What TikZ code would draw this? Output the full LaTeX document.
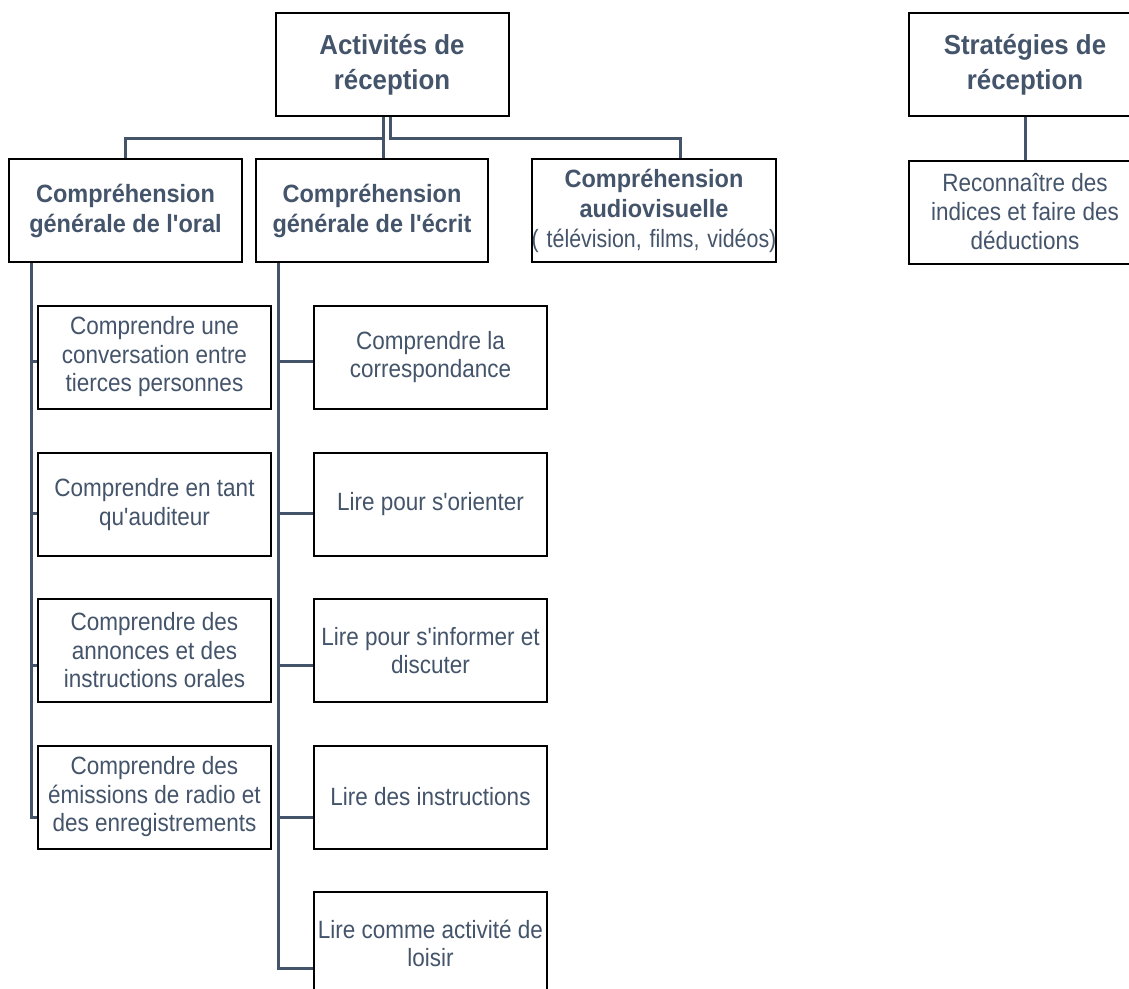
\documentclass[tikz,border=0pt]{standalone}
\usepackage{fontspec}
\usepackage{graphicx}
\setmainfont{Liberation Sans}[FakeStretch=0.9]
\newfontfamily\regfont{Liberation Sans}[FakeStretch=0.9]
\newfontfamily\headfont{Liberation Sans}[FakeStretch=0.94]
\newcommand\apos{\symbol{39}}
\definecolor{txt}{HTML}{44546A}
\definecolor{conncol}{HTML}{44546A}
\begin{document}
\begin{tikzpicture}[x=1pt,y=-1pt,
  box/.style={draw=black,line width=2pt,rectangle,inner sep=0pt,
    minimum width=#1,minimum height=103pt,align=center,text=txt,
    font=\regfont\fontsize{25}{28.5}\selectfont},
  box/.default=233pt,
  head/.style={box=#1,font=\headfont\bfseries\fontsize{25}{30}\selectfont},
  head/.default=233pt,
  tophead/.style={box=#1,font=\headfont\bfseries\fontsize{27.5}{35}\selectfont},
  conn/.style={draw=conncol,line width=3pt}]
\useasboundingbox (0,0) rectangle (1129,988);
\fill[white] (0,0) rectangle (1129,988);
% top level
\node[tophead=233pt] (act) at (392,64.5) {Activit\'es de\\r\'eception};
\node[tophead=232pt] (strat) at (1025,64.5) {Strat\'egies de\\r\'eception};
\node[box=232pt,font=\regfont\fontsize{25}{29}\selectfont] (reco) at (1025,212) {Reconna\^itre des\\indices et faire des\\d\'eductions};
% headings
\node[head] (oral) at (125.5,210.5) {Compr\'ehension\\g\'en\'erale de l\apos oral};
\node[head=232pt] (ecrit) at (372,210.5) {Compr\'ehension\\g\'en\'erale de l\apos\'ecrit};
\node[box,text width=244pt,font=\regfont\fontsize{25}{30}\selectfont] (audio) at (654,210.5) {{\headfont\bfseries Compr\'ehension}\\{\headfont\bfseries audiovisuelle}\\\makebox[244pt]{\scalebox{0.95}[1]{( t\'el\'evision, films, vid\'eos)}}};
% oral children
\node[box] (o1) at (154.5,357) {Comprendre une\\conversation entre\\tierces personnes};
\node[box] (o2) at (154.5,504.5) {Comprendre en tant\\qu\apos auditeur};
\node[box] (o3) at (154.5,650.5) {Comprendre des\\annonces et des\\instructions orales};
\node[box] (o4) at (154.5,797) {Comprendre des\\\'emissions de radio et\\des enregistrements};
% ecrit children
\node[box] (e1) at (430.5,357) {Comprendre la\\correspondance};
\node[box] (e2) at (430.5,504.5) {Lire pour s\apos orienter};
\node[box] (e3) at (430.5,650.5) {Lire pour s\apos informer et\\discuter};
\node[box] (e4) at (430.5,797) {Lire des instructions};
\node[box] (e5) at (430.5,943.5) {Lire comme activit\'e de\\loisir};
% connectors top
\draw[conn] ([xshift=-9pt]act.south) -- ([xshift=-9pt]act.south |- ecrit.north);
\draw[conn] ([xshift=-9pt]act.south) -- ++(0,21) -| (oral.north);
\draw[conn] ([xshift=-2pt]act.south) -- ++(0,21) -| ([xshift=26pt]audio.north);
\draw[conn] (strat.south) -- (reco.north);
% oral tree
\draw[conn] ([xshift=23pt]oral.south west) |- ([yshift=-20pt]o4.west);
\draw[conn] ([yshift=-4pt]o1.west) -- ++(-6,0);
\draw[conn] ([yshift=-8.5pt]o2.west) -- ++(-6,0);
\draw[conn] ([yshift=-14.5pt]o3.west) -- ++(-6,0);
% ecrit tree
\draw[conn] ([xshift=23pt]ecrit.south west) |- ([yshift=-24.5pt]e5.west);
\draw[conn] ([yshift=-4pt]e1.west) -- ++(-35,0);
\draw[conn] ([yshift=-8.5pt]e2.west) -- ++(-35,0);
\draw[conn] ([yshift=-14.5pt]e3.west) -- ++(-35,0);
\draw[conn] ([yshift=-20pt]e4.west) -- ++(-35,0);
\end{tikzpicture}
\end{document}
